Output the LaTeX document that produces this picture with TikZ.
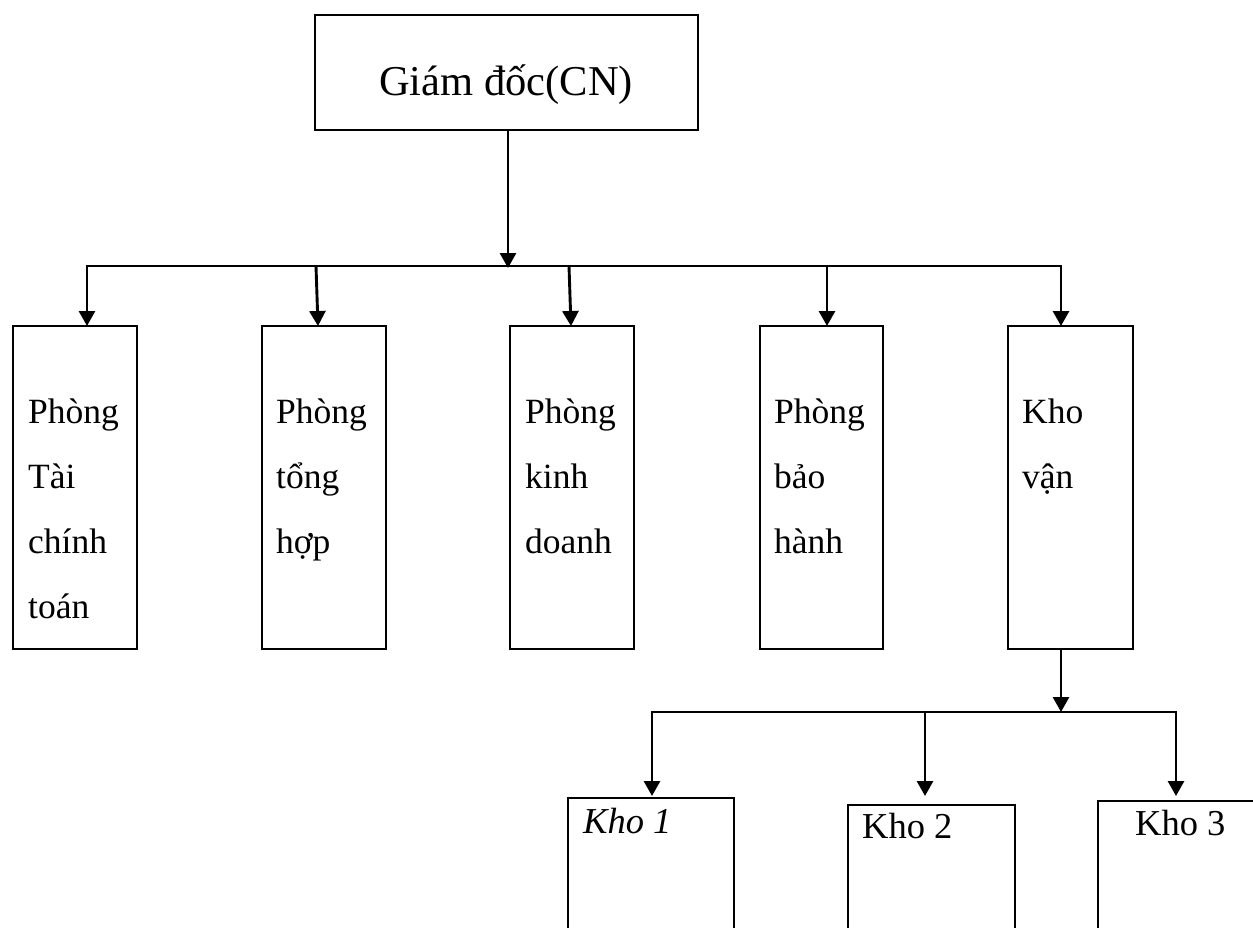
\documentclass[tikz,border=0pt]{standalone}
\usepackage{fontspec}
\setmainfont{Liberation Serif}
\usetikzlibrary{arrows.meta}

\begin{document}
\begin{tikzpicture}[x=1pt,y=-1pt,
  unit/.style={draw, line width=2.8pt, inner sep=0pt, outer sep=0pt,
               anchor=north west, minimum height=323pt},
  txt/.style={anchor=base west, inner sep=0pt, font=\fontsize{35.5}{40}\selectfont},
  ktxt/.style={anchor=base west, inner sep=0pt, font=\fontsize{36.5}{40}\selectfont},
  link/.style={line width=2.9pt},
  arr/.style={link, -{Triangle[length=15pt,width=16pt]}},
]
\useasboundingbox (0,0) rectangle (1253,927);
\clip (0,0) rectangle (1253,927);

% director
\node[unit, minimum width=383pt, minimum height=115pt] (top) at (315,15) {};
\node[anchor=base, inner sep=0pt, font=\fontsize{42.5}{48}\selectfont] (toptxt) at (506,95) {Giám đốc(CN)};

% departments
\node[unit, minimum width=124pt] (b1) at (13,326) {};
\node[unit, minimum width=124pt] (b2) at (262,326) {};
\node[unit, minimum width=124pt] (b3) at (510,326) {};
\node[unit, minimum width=123pt] (b4) at (760,326) {};
\node[unit, minimum width=125pt] (b5) at (1008,326) {};

\node[txt] (b1l1) at (28,423) {Phòng};
\node[txt] (b1l2) at (28,488) {Tài};
\node[txt] (b1l3) at (28,553) {chính};
\node[txt] (b1l4) at (28,618) {toán};

\node[txt] (b2l1) at (276,423) {Phòng};
\node[txt] (b2l2) at (276,488) {tổng};
\node[txt] (b2l3) at (276,553) {hợp};

\node[txt] (b3l1) at (525,423) {Phòng};
\node[txt] (b3l2) at (525,488) {kinh};
\node[txt] (b3l3) at (525,553) {doanh};

\node[txt] (b4l1) at (774,423) {Phòng};
\node[txt] (b4l2) at (774,488) {bảo};
\node[txt] (b4l3) at (774,553) {hành};

\node[txt] (b5l1) at (1022,423) {Kho};
\node[txt] (b5l2) at (1022,488) {vận};

% warehouses (open at the lower edge)
\node[unit, minimum width=166pt, minimum height=200pt] (k1) at (568,798) {};
\node[unit, minimum width=167pt, minimum height=200pt] (k2) at (848,805) {};
\node[unit, minimum width=200pt, minimum height=200pt] (k3) at (1098,801) {};

\node[ktxt, font=\fontsize{36.5}{40}\selectfont\itshape] (k1t) at (583,833) {Kho 1};
\node[ktxt] (k2t) at (862,838) {Kho 2};
\node[ktxt] (k3t) at (1135,835) {Kho 3};

% first level bus
\coordinate (hub) at (508,268);
\coordinate (d1) at (87,266);
\coordinate (d2) at (316,266);
\coordinate (d3) at (569,266);
\coordinate (d4) at (827,266);
\coordinate (d5) at (1061,266);
\coordinate (t1) at (87,326);
\coordinate (t2) at (318,326);
\coordinate (t3) at (571,326);
\coordinate (t4) at (827,326);
\coordinate (t5) at (1061,326);

\draw[arr] (top.south -| hub) -- (hub);
\draw[arr] (d5) -- (d1) -- (t1);
\draw[arr] (d1) -- (d5) -- (t5);
\draw[arr] (d2) -- (t2);
\draw[arr] (d3) -- (t3);
\draw[arr] (d4) -- (t4);

% second level bus
\coordinate (h2) at (1061,712);
\coordinate (e1) at (652,712);
\coordinate (e2) at (925,712);
\coordinate (e3) at (1176,712);
\coordinate (s1) at (652,796);
\coordinate (s2) at (925,796);
\coordinate (s3) at (1176,796);

\draw[arr] (b5.south -| h2) -- (h2);
\draw[arr] (e3) -- (e1) -- (s1);
\draw[arr] (e1) -- (e3) -- (s3);
\draw[arr] (e2) -- (s2);
\end{tikzpicture}
\end{document}
